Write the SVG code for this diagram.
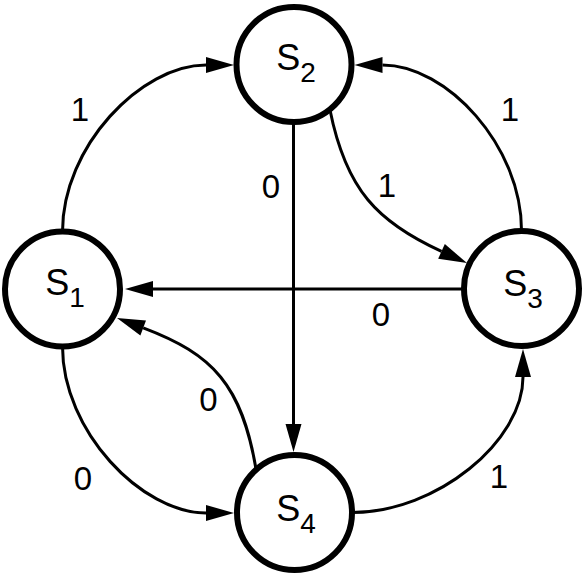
<svg xmlns="http://www.w3.org/2000/svg" width="585" height="576" viewBox="0 0 585 576">
<style>
.node{fill:#fff;stroke:#000;stroke-width:6}
.edge{fill:none;stroke:#000;stroke-width:3;marker-end:url(#arr)}
.lab{font-family:"Liberation Sans",Arial,sans-serif;font-size:33px;fill:#000;text-anchor:middle}
.nl{font-family:"Liberation Sans",Arial,sans-serif;font-size:36px;fill:#000}
.sub{font-size:28px}
</style>
<defs>
<marker id="arr" markerUnits="userSpaceOnUse" markerWidth="30" markerHeight="18" refX="0" refY="8" orient="auto" overflow="visible">
<path d="M0,0 L28,8 L0,16 Z" fill="#000"/>
</marker>
</defs>
<rect width="585" height="576" fill="#fff"/>
<g id="connectors">
<path class="edge" d="M62.5,231.5 C62.5,146.5 141,65 206,65"/>
<path class="edge" d="M521.5,230.5 C521.5,145.5 446.5,65 382.5,65"/>
<path class="edge" d="M352,512.5 C437,512.5 523,441 523,377"/>
<path class="edge" d="M62.5,346.5 C62.5,431.5 142,513 206,513"/>
<path class="edge" d="M293.5,122 L293.5,424"/>
<path class="edge" d="M464,289 L153,289"/>
<path class="edge" d="M330,110 C346,190 377.8,222.35 441.5,251.4"/>
<path class="edge" d="M256,469 C241.8,385.2 213.4,354.4 143.2,327.9"/>
<text class="lab" x="80" y="121">1</text>
<text class="lab" x="510" y="121">1</text>
<text class="lab" x="387" y="197">1</text>
<text class="lab" x="499" y="488">1</text>
<text class="lab" x="271" y="198">0</text>
<text class="lab" x="381" y="326">0</text>
<text class="lab" x="208.5" y="411">0</text>
<text class="lab" x="83" y="490">0</text>
</g>
<g id="s1">
<circle class="node" cx="62.5" cy="289" r="57.5"/>
<text class="nl" x="45.3" y="295">S<tspan class="sub" dy="12">1</tspan></text>
</g>
<g id="s2">
<circle class="node" cx="294" cy="64.5" r="57.5"/>
<text class="nl" x="276.3" y="70">S<tspan class="sub" dy="12">2</tspan></text>
</g>
<g id="s3">
<circle class="node" cx="521.5" cy="288.5" r="57.5"/>
<text class="nl" x="503.3" y="296">S<tspan class="sub" dy="12">3</tspan></text>
</g>
<g id="s4">
<circle class="node" cx="294.5" cy="512.5" r="57.5"/>
<text class="nl" x="276.3" y="521">S<tspan class="sub" dy="12">4</tspan></text>
</g>
</svg>
